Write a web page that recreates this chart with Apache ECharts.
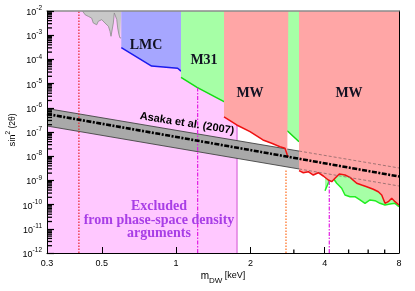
<!DOCTYPE html>
<html><head><meta charset="utf-8">
<script src="https://cdn.jsdelivr.net/npm/echarts@6/dist/echarts.min.js"></script>
<style>html,body{margin:0;padding:0;background:#fff}#c{width:415px;height:291px}</style>
</head><body><div id="c"></div>
<script>
// ---- data (keV, sin^2(2theta)) ----
const xRange = [0.3, 8];
const yRange = [1e-12, 1e-2];
const yExponents = [-12, -11, -10, -9, -8, -7, -6, -5, -4, -3, -2];
const xMinorTicks = [3, 5, 6, 7];
const pinkTop = [[0.3, 1e-2], [1.766, 1e-2]];
const pinkEdge = [[1.766, 1e-12], [1.766, 1e-2]];
const grayTop = [[0.418, 1e-2], [0.428, 7.0e-3], [0.434, 8.3e-3], [0.441, 6.0e-3], [0.448, 7.0e-3], [0.455, 5.1e-3], [0.462, 3.2e-3], [0.469, 3.75e-3], [0.477, 2.7e-3], [0.484, 3.75e-3], [0.492, 3.2e-3], [0.500, 4.4e-3], [0.507, 3.75e-3], [0.515, 3.2e-3], [0.524, 3.75e-3], [0.532, 2.33e-3], [0.540, 1.45e-3], [0.545, 9.0e-4], [0.552, 1.05e-3], [0.557, 3.2e-3], [0.562, 8.3e-3], [0.566, 9.5e-3], [0.571, 9.0e-3], [0.575, 4.5e-3], [0.580, 2.0e-3], [0.587, 1.05e-3], [0.593, 7.7e-4], [0.600, 7.7e-4]];
const lmcBound = [[0.6, 3.05e-4], [0.796, 5.3e-5], [1.015, 4.3e-5], [1.047, 3.3e-5]];
const m31Bound = [[1.047, 1.82e-5], [1.216, 7.0e-6], [1.564, 1.79e-6], [2.849, 1.03e-7], [3.148, 3.97e-8]];
const mw1Bound = [[1.564, 4.2e-7], [1.761, 1.95e-7], [1.993, 1.03e-7], [2.249, 4.68e-8], [2.440, 3.41e-8], [2.636, 2.47e-8], [2.762, 2.12e-8], [2.822, 1.12e-8], [2.849, 9.3e-9]];
const mw2Bound = [[3.148, 2.52e-9], [3.277, 2.08e-9], [3.432, 2.29e-9], [3.596, 1.67e-9], [3.768, 2.08e-9], [3.948, 1.52e-9], [4.137, 1.04e-9], [4.270, 8.85e-10], [4.404, 1.22e-9], [4.584, 1.84e-9], [4.834, 1.67e-9], [5.065, 1.34e-9], [5.392, 7.6e-10], [5.648, 6.46e-10], [5.918, 5.5e-10], [6.294, 4.3e-10], [6.595, 3.41e-10], [6.808, 2.49e-10], [7.020, 1.13e-10], [7.240, 1.32e-10], [7.474, 1.82e-10], [7.706, 1.32e-10], [8.0, 9.6e-11]];
const m31LowBound = [[4.011, 3.76e-10], [4.175, 9.7e-10], [4.322, 1.26e-9], [4.474, 7.6e-10], [4.687, 4.72e-10], [4.834, 2.49e-10], [5.065, 2.12e-10], [5.306, 2.12e-10], [5.560, 1.55e-10], [5.826, 1.13e-10], [6.104, 1.55e-10], [6.395, 1.45e-10], [6.700, 1.13e-10], [7.020, 9.6e-11], [7.355, 1.06e-10], [7.706, 1.13e-10], [8.0, 8.2e-11]];
const bandUpper = [[0.3, 9.35e-7], [3.15, 1.63e-8], [8, 3.26e-9]];
const bandLower = [[0.3, 1.77e-7], [3.15, 2.97e-9], [8, 5.87e-10]];
const bandCenter = [[0.3, 5.55e-7], [8, 1.45e-9]];
const vRedDot = [[0.404, 1e-12], [0.404, 1e-2]];
const vMag1 = [[1.223, 1e-12], [1.223, 6.8e-6]];
const vOrange = [[2.788, 1e-12], [2.788, 2.7e-9]];
const vMag2 = [[4.175, 1e-12], [4.175, 9.7e-10]];
// minor tick extents (data units along the other axis)
const yMinorTickEnd = 0.3143;   // keV
const xMinorTickEnd = 1.4e-12;  // sin^2

// ---- build ----
function area(data, fill, stroke, w, origin) {
  return { type: 'line', data: data, symbol: 'none', silent: true,
    lineStyle: { color: stroke, width: w }, areaStyle: { color: fill, opacity: 1, origin: origin } };
}
function line(data, color, type, w) {
  return { type: 'line', data: data, symbol: 'none', silent: true, lineStyle: { color: color, type: type, width: w } };
}

const axisFont = '"Liberation Sans", Arial, sans-serif';
const series = [
  area(pinkTop, '#ffc8ff', '#ffc8ff', 0, 'start'),
  line(pinkEdge, '#d24fd2', 'solid', 1),
  { type: 'custom', silent: true, data: [[xRange[0], bandCenter[0][1]]],
    renderItem: (p, api) => {
      if (p.dataIndex !== 0) return null;
      const pts = bandUpper.concat(bandLower.slice().reverse()).map(d => api.coord(d));
      return { type: 'polygon', shape: { points: pts }, style: { fill: '#a9a9a9' } };
    } },
  line(bandUpper.slice(0, 2), '#444', 'solid', 0.9),
  line(bandLower.slice(0, 2), '#444', 'solid', 0.9),
  area(grayTop, '#c8c8c8', '#8a8a8a', 0.8, 'end'),
  area(lmcBound, '#a6a6ff', '#1a1aee', 1.5, 'end'),
  area(m31Bound, '#a6ffa6', '#11dd11', 1.5, 'end'),
  area(m31LowBound, '#a6ffa6', '#22ee22', 1.5, 'end'),
  area(mw1Bound, '#ffa6a6', '#ee1111', 1.5, 'end'),
  area(mw2Bound, '#ffa6a6', '#ee1111', 1.5, 'end'),
  line(vRedDot, '#e8222a', [1.5, 1.5], 1.2),
  line(vMag1, '#e21ee2', [4, 1.5, 1.5, 1.5], 1.2),
  line(vOrange, '#ff6a1a', [1.5, 1.5], 1.2),
  line(vMag2, '#e21ee2', [4, 1.5, 1.5, 1.5], 1.2),
  line(bandUpper.slice(1), '#8a6666', [3, 2], 0.8),
  line(bandLower.slice(1), '#8a6666', [3, 2], 0.8),
  line(bandCenter, '#000', [5, 1.5, 2, 1.5], 2.6)
];
// minor ticks as short segments through the axes' scales
yExponents.slice(0, -1).forEach(e => {
  for (let m = 2; m <= 9; m++) {
    const v = m * Math.pow(10, e);
    series.push(line([[xRange[0], v], [yMinorTickEnd, v]], '#000', 'solid', 1.3));
  }
});
xMinorTicks.forEach(v => series.push(line([[v, yRange[0]], [v, xMinorTickEnd]], '#000', 'solid', 1.3)));
series.forEach((s, i) => { s.z = 2 + Math.min(i, 30); s.clip = false; });

const labels = [
  { x: 146, y: 45, text: 'LMC', font: 'bold 14px "Liberation Serif", serif', fill: '#111122' },
  { x: 204, y: 60, text: 'M31', font: 'bold 14px "Liberation Serif", serif', fill: '#111122' },
  { x: 250, y: 93, text: 'MW', font: 'bold 14px "Liberation Serif", serif', fill: '#111122' },
  { x: 349, y: 93, text: 'MW', font: 'bold 14px "Liberation Serif", serif', fill: '#111122' },
  { x: 159, y: 206, text: 'Excluded', font: 'bold 14px "Liberation Serif", serif', fill: '#a83ee6' },
  { x: 159, y: 220, text: 'from phase-space density', font: 'bold 14px "Liberation Serif", serif', fill: '#a83ee6' },
  { x: 159, y: 233.5, text: 'arguments', font: 'bold 14px "Liberation Serif", serif', fill: '#a83ee6' }
];
const graphic = labels.map(l => ({ type: 'text', x: l.x, y: l.y, z: 100,
  style: { text: l.text, font: l.font, fill: l.fill, align: 'center', verticalAlign: 'middle' } }));
graphic.push(
  { type: 'text', x: 187, y: 123.5, rotation: -9 * Math.PI / 180, z: 100, style: { text: 'Asaka et al. (2007)', font: 'bold 11px "Liberation Sans", Arial, sans-serif', fill: '#000', align: 'center', verticalAlign: 'middle' } },
  { type: 'text', x: 11, y: 130, rotation: Math.PI / 2, z: 100, style: { text: '{a|sin}{b|2}{c| (2θ)}', align: 'center', verticalAlign: 'middle',
      rich: { a: { fontSize: 9.5, lineHeight: 12, verticalAlign: 'bottom', fontFamily: axisFont, fill: '#000' },
              b: { fontSize: 6.5, lineHeight: 12, verticalAlign: 'top', fontFamily: axisFont, fill: '#000' },
              c: { fontSize: 8.5, lineHeight: 12, verticalAlign: 'bottom', fontFamily: axisFont, fill: '#000' } } } },
  { type: 'text', x: 223, y: 278, z: 100, style: { text: '{a|m}{b|DW}{c| [keV]}', align: 'center', verticalAlign: 'middle',
      rich: { a: { fontSize: 10, lineHeight: 13, verticalAlign: 'top', fontFamily: axisFont, fill: '#000' },
              b: { fontSize: 8, lineHeight: 13, verticalAlign: 'bottom', fontFamily: axisFont, fill: '#000' },
              c: { fontSize: 9, lineHeight: 13, verticalAlign: 'top', fontFamily: axisFont, fill: '#000' } } } }
);

const chart = echarts.init(document.getElementById('c'), null, { renderer: 'canvas' });
chart.setOption({
  animation: false,
  grid: { left: 47, right: 16, top: 11, bottom: 38 },
  xAxis: [
    { type: 'log', logBase: 2, min: xRange[0], max: xRange[1], z: 60,
      axisLine: { lineStyle: { color: '#000', width: 1 } },
      axisTick: { inside: true, length: 6, lineStyle: { color: '#000' } },
      splitLine: { show: false }, minorTick: { show: false },
      axisLabel: { showMinLabel: true, showMaxLabel: true, margin: 6, color: '#000', fontSize: 9, fontFamily: axisFont,
        formatter: v => String(+(+v).toPrecision(2)) } },
    { type: 'log', logBase: 2, min: xRange[0], max: xRange[1], position: 'top', z: 60,
      axisLine: { lineStyle: { color: '#8c8c8c', width: 1.5 } }, axisTick: { show: false }, axisLabel: { show: false }, splitLine: { show: false } }
  ],
  yAxis: [
    { type: 'log', logBase: 10, min: yRange[0], max: yRange[1], splitNumber: 10, z: 60,
      axisLine: { lineStyle: { color: '#000', width: 1 } },
      axisTick: { inside: true, length: 7, lineStyle: { color: '#000', width: 1.2 } },
      splitLine: { show: false },
      axisLabel: { margin: 5, color: '#000', fontFamily: axisFont,
        formatter: v => '{b|10}{s|' + Math.round(Math.log10(v)) + '}',
        rich: { b: { fontSize: 9, lineHeight: 12, verticalAlign: 'bottom', fontFamily: axisFont, color: '#000' },
                s: { fontSize: 6.5, lineHeight: 12, verticalAlign: 'top', fontFamily: axisFont, color: '#000' } } } },
    { type: 'log', logBase: 10, min: yRange[0], max: yRange[1], position: 'right', z: 60,
      axisLine: { lineStyle: { color: '#000', width: 1 } }, axisTick: { show: false }, axisLabel: { show: false }, splitLine: { show: false } }
  ],
  series: series,
  graphic: graphic
});
</script></body></html>
